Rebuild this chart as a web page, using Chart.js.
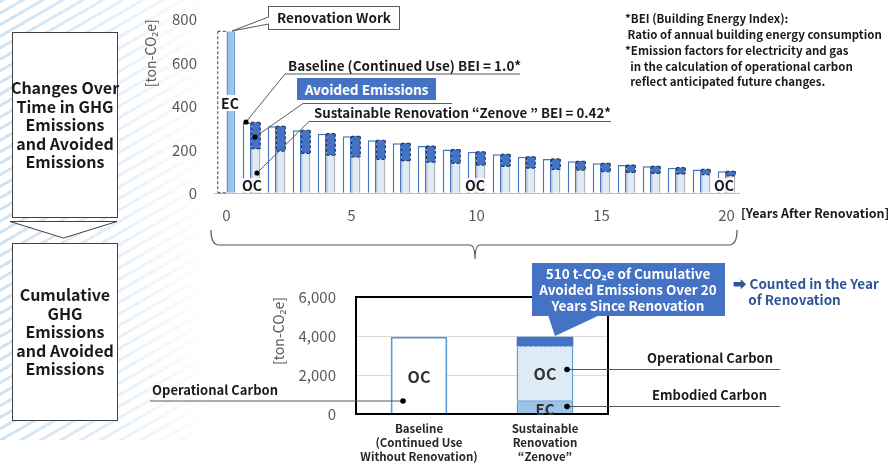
<!DOCTYPE html>
<html lang="en">
<head>
<meta charset="UTF-8" />
<title>GHG Emissions and Avoided Emissions</title>
<script src="https://cdn.jsdelivr.net/npm/chart.js"></script>
<style>
  body { margin: 0; background: #fff; font-family: "Noto Sans CJK JP", "Noto Sans", sans-serif; }
  #wrap { position: relative; width: 896px; height: 471px; overflow: hidden; background: #fff; }
  .stripes {
    position: absolute; left: 0; top: 0; width: 210px; height: 440px;
    background: repeating-linear-gradient(150deg, rgba(189, 215, 238, 0.7) 0 3px, transparent 3px 10px);
    -webkit-mask-image: linear-gradient(to right, #000 0%, rgba(0,0,0,0.6) 50%, transparent 100%);
    mask-image: linear-gradient(to right, #000 0%, rgba(0,0,0,0.6) 50%, transparent 100%);
  }
  canvas { position: absolute; }
  svg { position: absolute; left: 0; top: 0; }
  .t { position: absolute; font-weight: bold; color: #1a1a1a; white-space: nowrap; line-height: 1; }
  .c { transform: translate(-50%, -50%); text-align: center; }
  .m { transform: translateY(-50%); }
  .box { position: absolute; display: flex; align-items: center; justify-content: center; text-align: center; font-weight: bold; }
</style>
</head>
<body>
<div id="wrap">
  <div class="stripes"></div>

  <svg width="896" height="471">
    <!-- left side panels -->
    <rect x="12.5" y="32.5" width="105" height="185" fill="#fff" stroke="#404040" />
    <polygon points="10,221.5 117,221.5 63.5,238" fill="#fff" stroke="#404040" />
    <rect x="12.5" y="243.5" width="105" height="177" fill="#fff" stroke="#404040" />
    <!-- brace -->
    <path d="M211,230 Q211,245 219,245 L470,245 Q475,245 475,259 Q475,245 480,245 L729,245 Q737,245 737,230" fill="none" stroke="#595959" stroke-width="1.2" />
  </svg>

  <canvas id="trend" width="620" height="240" style="left:140px; top:0; width:620px; height:240px;"></canvas>
  <canvas id="cumul" width="360" height="191" style="left:260px; top:280px; width:360px; height:191px;"></canvas>

  <svg width="896" height="471">
    <!-- Renovation Work callout -->
    <polygon points="268.5,17 232,31 268.5,24" fill="#fff" stroke="#595959" />
    <rect x="268.5" y="6.5" width="131" height="23" fill="#fff" stroke="#595959" />
    <line x1="268.5" y1="17.5" x2="268.5" y2="23.5" stroke="#fff" stroke-width="2" />
    <!-- leaders in the trend chart -->
    <polyline points="246,122 285,74 520,74" fill="none" stroke="#595959" />
    <polyline points="255,137 303,103.5 452,103.5" fill="none" stroke="#595959" />
    <polyline points="257,173 309,121.5 611,121.5" fill="none" stroke="#595959" />
    <circle cx="246" cy="122" r="2.6" fill="#000" />
    <circle cx="255" cy="137" r="2.6" fill="#000" />
    <circle cx="257" cy="173" r="2.6" fill="#000" />
    <!-- cumulative callout pointer -->
    <polygon points="548,315 600,315 555,336" fill="#4472C4" />
    <rect x="532" y="263" width="193" height="53" fill="#4472C4" />
    <!-- cumulative leaders -->
    <line x1="150" y1="401" x2="403" y2="401" stroke="#595959" />
    <line x1="567" y1="369.5" x2="780" y2="369.5" stroke="#595959" />
    <line x1="567" y1="406.5" x2="780" y2="406.5" stroke="#595959" />
    <circle cx="403" cy="401" r="2.8" fill="#000" />
    <circle cx="567" cy="369.5" r="2.8" fill="#000" />
    <circle cx="567" cy="406.5" r="2.8" fill="#000" />
  </svg>

  <!-- left panel texts -->
  <div class="t c" style="left:65px; top:124px; font-size:16px; line-height:18.6px;">Changes Over<br>Time in GHG<br>Emissions<br>and Avoided<br>Emissions</div>
  <div class="t c" style="left:65px; top:331px; font-size:16px; line-height:18.6px;">Cumulative<br>GHG<br>Emissions<br>and Avoided<br>Emissions</div>

  <!-- trend chart texts -->
  <div class="t c" style="left:334px; top:18px; font-size:13.5px;">Renovation Work</div>
  <div class="t m" style="left:288px; top:66px; font-size:13.5px;">Baseline (Continued Use) BEI = 1.0*</div>
  <div class="box" style="left:297px; top:78px; width:139px; height:22px; background:#4472C4; color:#fff; font-size:13.5px;">Avoided Emissions</div>
  <div class="t m" style="left:314px; top:113px; font-size:13.3px;">Sustainable Renovation “Zenove ” BEI = 0.42*</div>
  <div class="t c" style="left:230px; top:103px; font-size:14px; background:#fff; padding:1px 0;">EC</div>
  <div class="t c" style="left:252px; top:185px; font-size:14px; background:rgba(255,255,255,0.85);">OC</div>
  <div class="t c" style="left:475px; top:185px; font-size:14px; background:rgba(255,255,255,0.85);">OC</div>
  <div class="t c" style="left:724px; top:185px; font-size:14px; background:rgba(255,255,255,0.85);">OC</div>
  <div class="t m" style="left:741px; top:213px; font-size:12.5px;">[Years After Renovation]</div>

  <div class="t" style="left:625px; top:11px; font-size:11.5px; line-height:15.5px;">*BEI (Building Energy Index):<br>&nbsp;Ratio of annual building energy consumption</div>
  <div class="t" style="left:625px; top:43px; font-size:11.5px; line-height:15.5px;">*Emission factors for electricity and gas<br>&nbsp;&nbsp;in the calculation of operational carbon<br>&nbsp;&nbsp;reflect anticipated future changes.</div>

  <!-- cumulative chart texts -->
  <div class="t c" style="left:628px; top:289px; font-size:13.5px; line-height:16px; color:#fff;">510 t-CO₂e of Cumulative<br>Avoided Emissions Over 20<br>Years Since Renovation</div>
  <div class="t" style="left:733px; top:275px; font-size:13.5px; line-height:16px; color:#2F5597;">➡ Counted in the Year<br>&nbsp;&nbsp;&nbsp;&nbsp;&nbsp;of Renovation</div>
  <div class="t m" style="left:152px; top:389px; font-size:13px;">Operational Carbon</div>
  <div class="t m" style="left:647px; top:357px; font-size:13px;">Operational Carbon</div>
  <div class="t m" style="left:652px; top:394px; font-size:13px;">Embodied Carbon</div>
  <div class="t c" style="left:419px; top:376px; font-size:16px; color:#333;">OC</div>
  <div class="t c" style="left:545px; top:373px; font-size:16px; color:#333;">OC</div>
  <div class="t c" style="left:545px; top:408px; font-size:15px; color:#333;">EC</div>
</div>

<script>
  // yearly emissions [ton-CO2e]
  const years = ['0','1','2','3','4','5','6','7','8','9','10','11','12','13','14','15','16','17','18','19','20'];
  const baselineOC = [null, 326, 308, 290, 274, 262, 244, 230, 217, 201, 191, 179, 168, 158, 147, 138, 130, 124, 118, 110, 101];
  const renovationEC = [745, null, null, null, null, null, null, null, null, null, null, null, null, null, null, null, null, null, null, null, null];
  const zenoveOC = [null, 205, 194, 184, 175, 167, 156, 150, 143, 138, 129, 124, 116, 110, 106, 99, 96, 92, 89, 86, 80];
  const avoided = [null, 121, 114, 106, 99, 95, 88, 80, 74, 63, 62, 55, 52, 48, 41, 39, 34, 32, 29, 24, 21];
  const withoutWork = [745, null, null, null, null, null, null, null, null, null, null, null, null, null, null, null, null, null, null, null, null];
  const trendTicks = [0, 200, 400, 600, 800];

  // cumulative over 20 years [ton-CO2e]
  const cumCats = [['Baseline', '(Continued Use', 'Without Renovation)'], ['Sustainable', 'Renovation', '“Zenove”']];
  const cumBaseline = [3960, null];
  const cumEC = [null, 700];
  const cumOC = [null, 2750];
  const cumAvoided = [null, 510];
  const cumTicks = [0, 2000, 4000, 6000];

  Chart.defaults.font.family = '"Noto Sans CJK JP", "Noto Sans", sans-serif';
  Chart.defaults.animation = false;

  // dashed outlines for selected bars
  const dashedEdges = {
    id: 'dashedEdges',
    afterDatasetsDraw(chart) {
      const ctx = chart.ctx;
      chart.data.datasets.forEach((ds, di) => {
        if (!ds.dash) return;
        chart.getDatasetMeta(di).data.forEach((bar, i) => {
          if (ds.data[i] == null) return;
          const p = bar.getProps(['x', 'y', 'base', 'width'], true);
          const l = p.x - p.width / 2, r = p.x + p.width / 2;
          const top = Math.min(p.y, p.base), bot = Math.max(p.y, p.base);
          ctx.save();
          ctx.setLineDash(ds.dash.pattern);
          ctx.strokeStyle = ds.dash.color;
          ctx.lineWidth = ds.dash.width;
          ctx.beginPath();
          const s = ds.dash.sides;
          if (s.includes('l')) { ctx.moveTo(l, top); ctx.lineTo(l, bot); }
          if (s.includes('r')) { ctx.moveTo(r, top); ctx.lineTo(r, bot); }
          if (s.includes('t')) { ctx.moveTo(l, top); ctx.lineTo(r, top); }
          if (s.includes('b')) { ctx.moveTo(l, bot); ctx.lineTo(r, bot); }
          ctx.stroke();
          ctx.restore();
        });
      });
    }
  };

  const frame = {
    id: 'frame',
    afterDraw(chart) {
      const a = chart.chartArea, ctx = chart.ctx;
      ctx.save();
      ctx.strokeStyle = '#000';
      ctx.lineWidth = 2;
      ctx.strokeRect(a.left, a.top, a.right - a.left, a.bottom - a.top);
      ctx.restore();
    }
  };

  new Chart(document.getElementById('trend'), {
    type: 'bar',
    data: {
      labels: years,
      datasets: [
        { label: 'Without work', data: withoutWork, stack: 'base', backgroundColor: 'rgba(0,0,0,0)', borderWidth: 0,
          dash: { pattern: [3, 2], color: '#404040', width: 1, sides: 'ltb' } },
        { label: 'Baseline', data: baselineOC, stack: 'base', backgroundColor: '#fff', borderColor: '#4472C4', borderWidth: 1.5 },
        { label: 'EC', data: renovationEC, stack: 'zen', backgroundColor: '#9DC3E6', borderColor: '#5B9BD5', borderWidth: { left: 1.5, right: 1.5 } },
        { label: 'OC', data: zenoveOC, stack: 'zen', backgroundColor: '#DEEBF7', borderColor: '#7F7F7F', borderWidth: { left: 1, right: 1 } },
        { label: 'Avoided', data: avoided, stack: 'zen', backgroundColor: '#4472C4', borderWidth: 0,
          dash: { pattern: [3, 2], color: '#1F3864', width: 1.2, sides: 'lrtb' } }
      ]
    },
    options: {
      responsive: false,
      devicePixelRatio: 1,
      categoryPercentage: 0.7,
      barPercentage: 1,
      layout: { padding: { top: 19.3, right: 21, bottom: 16.7, left: 0 } },
      plugins: { legend: { display: false }, tooltip: { enabled: false } },
      scales: {
        x: {
          stacked: true,
          grid: { display: false, drawTicks: false },
          border: { display: true, color: '#BFBFBF', width: 1 },
          ticks: {
            autoSkip: false, maxRotation: 0, padding: 13, color: '#595959', font: { size: 15 },
            callback: (v, i) => (i % 5 === 0 ? years[i] : '')
          },
          afterFit: s => { s.height = 30; }
        },
        y: {
          stacked: true,
          min: 0, max: 800,
          afterBuildTicks: s => { s.ticks = trendTicks.map(v => ({ value: v })); },
          grid: { display: true, drawOnChartArea: false, drawTicks: true, tickLength: 17, tickColor: 'rgba(0,0,0,0)', color: 'rgba(0,0,0,0)' },
          border: { display: false },
          ticks: { padding: 0, color: '#595959', font: { size: 15 } },
          title: { display: true, text: '[ton-CO₂e]', align: 'end', color: '#595959', font: { size: 14 }, padding: 2 },
          afterFit: s => { s.width = 74; }
        }
      }
    },
    plugins: [dashedEdges]
  });

  new Chart(document.getElementById('cumul'), {
    type: 'bar',
    data: {
      labels: cumCats,
      datasets: [
        { label: 'Baseline OC', data: cumBaseline, backgroundColor: '#fff', borderColor: '#5B9BD5', borderWidth: 2 },
        { label: 'EC', data: cumEC, backgroundColor: '#9DC3E6', borderColor: '#5B9BD5', borderWidth: 1.5 },
        { label: 'OC', data: cumOC, backgroundColor: '#DEEBF7', borderColor: '#5B9BD5', borderWidth: { left: 1.5, right: 1.5 } },
        { label: 'Avoided', data: cumAvoided, backgroundColor: '#4472C4', borderWidth: 0,
          dash: { pattern: [3, 2], color: '#BDD7EE', width: 1.2, sides: 'b' } }
      ]
    },
    options: {
      responsive: false,
      devicePixelRatio: 1,
      categoryPercentage: 1,
      barPercentage: 0.45,
      layout: { padding: { top: 17, right: 12, bottom: 0, left: 8 } },
      plugins: { legend: { display: false }, tooltip: { enabled: false } },
      scales: {
        x: {
          stacked: true,
          grid: { display: false, drawTicks: false },
          border: { display: false },
          ticks: { maxRotation: 0, padding: 7, color: '#262626', font: { size: 11.5, weight: 'bold', lineHeight: 1.25 } },
          afterFit: s => { s.height = 57; }
        },
        y: {
          stacked: true,
          min: 0, max: 6000,
          afterBuildTicks: s => { s.ticks = cumTicks.map(v => ({ value: v })); },
          grid: { color: '#D9D9D9', drawTicks: true, tickLength: 20, tickColor: 'rgba(0,0,0,0)' },
          border: { display: false },
          ticks: { padding: 0, color: '#595959', font: { size: 15 }, callback: v => v.toLocaleString('en-US') },
          title: { display: true, text: '[ton-CO₂e]', align: 'end', color: '#595959', font: { size: 14 }, padding: 2 },
          afterFit: s => { s.width = 88; }
        }
      }
    },
    plugins: [dashedEdges, frame]
  });
</script>
</body>
</html>
